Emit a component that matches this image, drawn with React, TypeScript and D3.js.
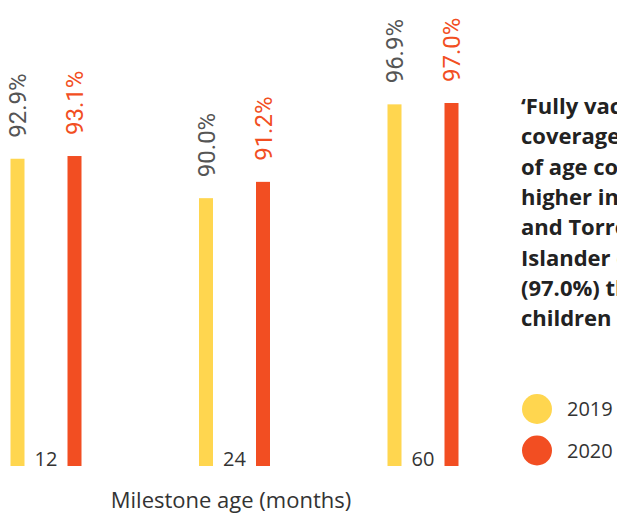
import React from "react";
import * as d3 from "d3";

const categories = ["12", "24", "60"];
const seriesNames = ["2019", "2020"];
const values2019 = [92.9, 90.0, 96.9];
const values2020 = [93.1, 91.2, 97.0];
const valueLabels2019 = ["92.9%", "90.0%", "96.9%"];
const valueLabels2020 = ["93.1%", "91.2%", "97.0%"];
const colors = ["#FFD64F", "#F24E22"];
const labelColors = ["#555555", "#F24E22"];
const xTitle = "Milestone age (months)";
const noteLines = [
  "\u2018Fully vaccinated\u2019",
  "coverage at 60 months",
  "of age continues to be",
  "higher in Aboriginal",
  "and Torres Strait",
  "Islander children",
  "(97.0%) than other",
  "children",
];

export default function App() {
  const W = 617, H = 514;
  const x = d3.scalePoint<string>().domain(categories).range([46, 423]);
  const inner = d3.scalePoint<string>().domain(seriesNames).range([-28.5, 28.5]);
  const y = d3.scaleLinear().domain([70.3, 97.0]).range([466, 103]);
  const barW = 14;
  const series = [values2019, values2020];
  const labels = [valueLabels2019, valueLabels2020];
  const font = "'Open Sans', 'Noto Sans', sans-serif";

  return (
    <svg width={W} height={H} style={{ position: "absolute", left: 0, top: 0, background: "#fff" }}>
      {series.map((vals, si) =>
        vals.map((v, ci) => {
          const cx = (x(categories[ci]) as number) + (inner(seriesNames[si]) as number);
          const top = y(v);
          return (
            <g key={`${si}-${ci}`}>
              <rect x={cx - barW / 2} y={top} width={barW} height={y.range()[0] - top} fill={colors[si]} />
              <text
                transform={`translate(${cx + 8.5},${top - 21}) rotate(-90)`}
                fontFamily="Roboto, sans-serif"
                fontSize={24}
                fontWeight={400}
                fill={labelColors[si]}
              >
                {labels[si][ci]}
              </text>
            </g>
          );
        })
      )}
      {categories.map((c) => (
        <text key={c} x={x(c) as number} y={466} textAnchor="middle" fontFamily={font} fontSize={20} fill="#333">
          {c}
        </text>
      ))}
      <text x={231} y={508} textAnchor="middle" fontFamily={font} fontSize={22} fill="#333">
        {xTitle}
      </text>
      {noteLines.map((l, i) => (
        <text key={i} x={521} y={114 + i * 30.3} fontFamily={font} fontSize={22} fontWeight={700} fill="#222">
          {l}
        </text>
      ))}
      {seriesNames.map((s, i) => (
        <g key={s}>
          <circle cx={537} cy={409 + i * 41.5} r={15} fill={colors[i]} />
          <text x={567} y={409 + i * 41.5 + 7} fontFamily={font} fontSize={20} fill="#333">
            {s}
          </text>
        </g>
      ))}
    </svg>
  );
}
